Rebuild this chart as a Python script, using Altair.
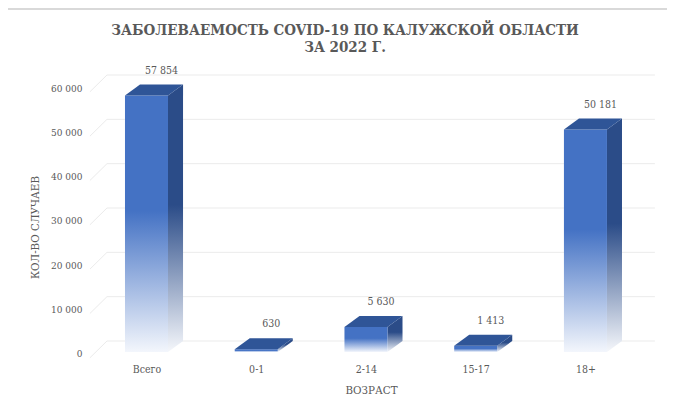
import altair as alt
import pandas as pd

# ---- data ----
categories = ["Всего", "0-1", "2-14", "15-17", "18+"]
values = [57854, 630, 5630, 1413, 50181]
y_ticks = [0, 10000, 20000, 30000, 40000, 50000, 60000]
title_lines = ["ЗАБОЛЕВАЕМОСТЬ COVID-19 ПО КАЛУЖСКОЙ ОБЛАСТИ", "ЗА 2022 Г."]
x_title = "ВОЗРАСТ"
y_title = "КОЛ-ВО СЛУЧАЕВ"

# ---- 3D geometry (in scale units) ----
HW = 0.196   # half width of front face (category units)
DX = 0.137   # depth shift along x (category units)
DY = 2480    # depth shift along y (value units)


def fmt(v):
    return f"{v:,}".replace(",", " ")


front_rows, side_rows, top_rows, label_rows = [], [], [], []
for i, (c, v) in enumerate(zip(categories, values)):
    xl = i + 0.5 - HW
    xr = i + 0.5 + HW
    front_rows.append({"cat": c, "x": xl, "x2": xr, "y": 0, "y2": v})
    side_rows += [
        {"cat": c, "x": xr, "y": v, "y2": 0},
        {"cat": c, "x": xr + DX, "y": v + DY, "y2": DY},
    ]
    top_rows += [
        {"cat": c, "x": xl, "y": v, "y2": v},
        {"cat": c, "x": xl + DX, "y": v + DY, "y2": v},
        {"cat": c, "x": xr, "y": v + DY, "y2": v},
        {"cat": c, "x": xr + DX, "y": v + DY, "y2": v + DY},
    ]
    label_rows.append({"cat": c, "x": i + 0.5 + DX, "y": v + DY, "text": fmt(v)})

grid_h = pd.DataFrame([{"x": 0.14, "x2": 5.133, "y": t + DY, "y2": t + DY} for t in y_ticks])
grid_d = pd.DataFrame([{"x": -0.015, "x2": 0.14, "y": t - 1300, "y2": t + DY} for t in y_ticks])
front = pd.DataFrame(front_rows)
side = pd.DataFrame(side_rows)
top = pd.DataFrame(top_rows)
labels = pd.DataFrame(label_rows)

# ---- scales / axes ----
xs = alt.Scale(domain=[-0.033, 5.152], nice=False, zero=False)
ys = alt.Scale(domain=[-1805, 65414], nice=False, zero=False)
FONT = "DejaVu Serif Condensed"
GREY = "#595959"

label_expr = "[" + ",".join(f"'{c}'" for c in categories) + "][floor(datum.value)]"
xa = alt.Axis(values=[i + 0.5 for i in range(len(categories))], labelExpr=label_expr,
              grid=False, ticks=False, domain=False, title=x_title,
              labelFont=FONT, labelFontSize=10.5, labelColor=GREY, labelPadding=4,
              titleFont=FONT, titleFontSize=11.5, titleFontWeight="normal", titleColor=GREY,
              titleX=283, titleY=30, titleBaseline="middle", titleAlign="center")
ya = alt.Axis(values=y_ticks, labelExpr="replace(format(datum.value, ','), ',', ' ')",
              grid=False, ticks=False, domain=False, title=y_title,
              labelFont=FONT, labelFontSize=10, labelColor=GREY, labelPadding=6, labelOffset=2,
              titleFont=FONT, titleFontSize=11.5, titleFontWeight="normal", titleColor=GREY,
              titleX=-53, titleY=165, titleBaseline="middle", titleAlign="center")


def X(f="x"):
    return alt.X(f"{f}:Q", scale=xs, axis=xa)


def Y(f="y"):
    return alt.Y(f"{f}:Q", scale=ys, axis=ya)


front_grad = alt.Gradient(gradient="linear", x1=0, y1=0, x2=0, y2=1, stops=[
    alt.GradientStop(offset=0, color="#4472C4"),
    alt.GradientStop(offset=0.45, color="#4472C4"),
    alt.GradientStop(offset=1, color="#F3F6FC"),
])
side_grad = alt.Gradient(gradient="linear", x1=0, y1=0, x2=0, y2=1, stops=[
    alt.GradientStop(offset=0, color="#2B4C88"),
    alt.GradientStop(offset=0.45, color="#2B4C88"),
    alt.GradientStop(offset=1, color="#F5F7FB"),
])

grid_color = "#EBEBEB"
gh = alt.Chart(grid_h).mark_rule(color=grid_color, strokeWidth=1).encode(
    x=X("x"), x2="x2", y=Y("y"))
gd = alt.Chart(grid_d).mark_rule(color=grid_color, strokeWidth=1).encode(
    x=X("x"), x2="x2", y=Y("y"), y2="y2")

side_l = alt.Chart(side).mark_area(color=side_grad, orient="vertical").encode(
    x=X("x"), y=Y("y"), y2="y2", detail="cat:N")
front_l = alt.Chart(front).mark_rect(color=front_grad).encode(
    x=X("x"), x2="x2", y=Y("y"), y2="y2")
top_l = alt.Chart(top).mark_area(color="#2F5597", orient="vertical").encode(
    x=X("x"), y=Y("y"), y2="y2", detail="cat:N")
text_l = alt.Chart(labels).mark_text(font=FONT, fontSize=10.5, color=GREY, dy=-14,
                                     baseline="middle").encode(
    x=X("x"), y=Y("y"), text="text:N")

title_l = alt.Chart(pd.DataFrame({"t": [0]})).mark_text(
    font=FONT, fontSize=15, fontWeight="bold", color=GREY, align="center",
    baseline="middle", lineHeight=17).encode(
    x=alt.value(257), y=alt.value(-32), text=alt.value(title_lines))

frame_top = alt.Chart(pd.DataFrame({"t": [0]})).mark_rule(color="#D9D9D9", strokeWidth=2).encode(
    x=alt.value(-81), x2=alt.value(600), y=alt.value(-53))
frame_left = alt.Chart(pd.DataFrame({"t": [0]})).mark_rule(color="#D9D9D9", strokeWidth=2).encode(
    x=alt.value(-81), y=alt.value(-53), y2=alt.value(360))

chart = alt.layer(frame_top, frame_left, gh, gd, side_l, front_l, top_l, text_l, title_l).properties(
    width=569, height=298,
    autosize=alt.AutoSizeParams(type="none"),
    padding={"left": 80, "top": 54, "right": 10, "bottom": 39},
    background="white",
).configure_view(stroke=None)

chart.save("out.html", embed_options={"renderer": "svg", "actions": False})
